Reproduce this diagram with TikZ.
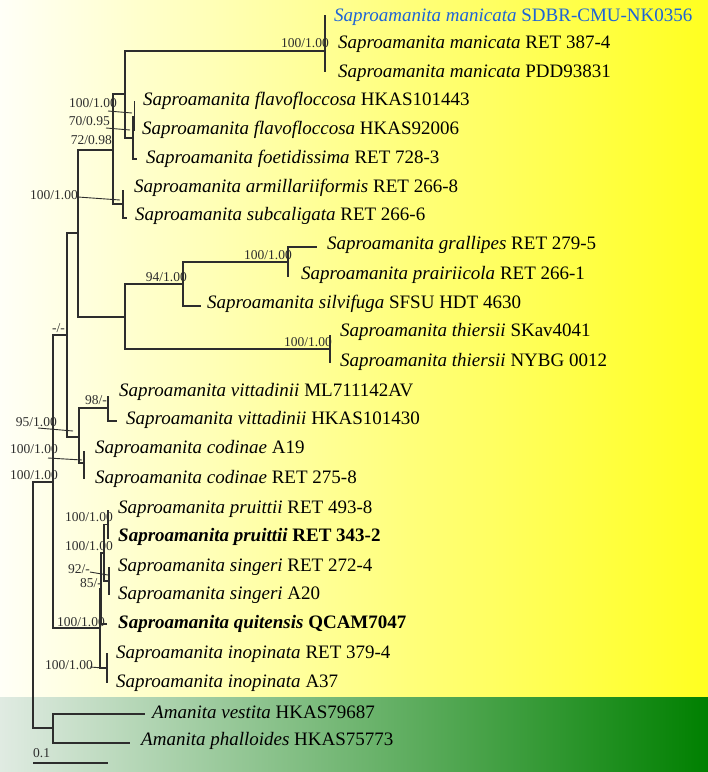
\documentclass[tikz,border=0pt]{standalone}
\usepackage{fontspec}
\setmainfont{Liberation Serif}
\definecolor{yL}{RGB}{255,255,247}
\definecolor{yR}{RGB}{255,255,32}
\definecolor{gL}{RGB}{224,235,226}
\definecolor{gR}{RGB}{0,128,0}
\definecolor{brc}{RGB}{45,45,45}
\definecolor{blueleaf}{RGB}{30,100,215}
\begin{document}
\begin{tikzpicture}[x=1pt,y=-1pt,
  br/.style={line width=1.2pt, draw=brc},
  lead/.style={line width=0.9pt, draw=brc},
  leaf/.style={anchor=base west, inner sep=0pt, font=\fontsize{19}{22}\selectfont},
  bs/.style={anchor=east, inner sep=0pt, font=\fontsize{13.5}{15}\selectfont, text=brc}]
\useasboundingbox (0,0) rectangle (708,772);
\fill[left color=yL, right color=yR] (0,0) rectangle (708,697);
\fill[left color=gL, right color=gR] (0,697) rectangle (708,772);

% internal nodes
\coordinate (Nr) at (33,605);
\coordinate (Na) at (53,482);
\coordinate (Am) at (53,728);
\coordinate (Nb) at (67,335);
\coordinate (Nd) at (100,628);
\coordinate (N0) at (78,233);
\coordinate (Nc) at (79,437);
\coordinate (N1) at (113,150);
\coordinate (N2) at (125,317);
\coordinate (M) at (125,94);
\coordinate (R) at (123,204);
\coordinate (O1) at (325,51);
\coordinate (I1) at (325,29.5);
\coordinate (A) at (133,138);
\coordinate (F) at (134.5,116.5);
\coordinate (N3) at (183,284);
\coordinate (G) at (288,262);
\coordinate (T) at (330,349);
\coordinate (V) at (108,408);
\coordinate (C) at (84,463);
\coordinate (Q) at (101,588.5);
\coordinate (PS) at (104,553);
\coordinate (P) at (108,524.5);
\coordinate (S) at (109,581);
\coordinate (I) at (107,668);

% leaf tips
\coordinate (t1) at (325,15);
\coordinate (t2) at (325,44);
\coordinate (t3) at (325,72);
\coordinate (t4) at (134.5,101);
\coordinate (t5) at (134.5,131);
\coordinate (t6) at (137,159);
\coordinate (t7) at (123,190);
\coordinate (t8) at (127,218);
\coordinate (t9) at (317,247);
\coordinate (t10) at (288,277);
\coordinate (t11) at (201,306);
\coordinate (t12) at (330,335);
\coordinate (t13) at (330,363);
\coordinate (t14) at (108,396);
\coordinate (t15) at (117,421);
\coordinate (t16) at (84,451);
\coordinate (t17) at (84,479);
\coordinate (t18) at (108,510);
\coordinate (t19) at (108,539);
\coordinate (t20) at (109,567);
\coordinate (t21) at (109,595);
\coordinate (t22) at (107,624);
\coordinate (t23) at (107,653);
\coordinate (t24) at (107,683);
\coordinate (t25) at (145,714);
\coordinate (t26) at (130,743);

% branches
\draw[br] (Nr) |- (Na) (Nr) |- (Am)
 (Na) |- (Nb) (Na) |- (Nd)
 (Nb) |- (N0) (Nb) |- (Nc)
 (N0) |- (N1) (N0) |- (N2)
 (N1) |- (M) (N1) |- (R)
 (M) |- (O1) (M) |- (A)
 (O1) |- (I1) (O1) |- (t3)
 (I1) |- (t1) (I1) |- (t2)
 (A) |- (F) (A) |- (t6)
 (F) |- (t4) (F) |- (t5)
 (R) |- (t7) (R) |- (t8)
 (N2) |- (N3) (N2) |- (T)
 (N3) |- (G) (N3) |- (t11)
 (G) |- (t9) (G) |- (t10)
 (T) |- (t12) (T) |- (t13)
 (Nc) |- (V) (Nc) |- (C)
 (V) |- (t14) (V) |- (t15)
 (C) |- (t16) (C) |- (t17)
 (Nd) |- (Q) (Nd) |- (I)
 (Q) |- (PS) (Q) |- (t22)
 (PS) |- (P) (PS) |- (S)
 (P) |- (t18) (P) |- (t19)
 (S) |- (t20) (S) |- (t21)
 (I) |- (t23) (I) |- (t24)
 (Am) |- (t25) (Am) |- (t26);

% leaf labels
\node[leaf, text=blueleaf] (L1) at (334,21) {\textit{Saproamanita manicata} SDBR-CMU-NK0356};
\node[leaf] (L2) at (338,48) {\textit{Saproamanita manicata} RET 387-4};
\node[leaf] (L3) at (338,77) {\textit{Saproamanita manicata} PDD93831};
\node[leaf] (L4) at (143,105) {\textit{Saproamanita flavofloccosa} HKAS101443};
\node[leaf] (L5) at (142,134) {\textit{Saproamanita flavofloccosa} HKAS92006};
\node[leaf] (L6) at (146,163) {\textit{Saproamanita foetidissima} RET 728-3};
\node[leaf] (L7) at (134,192) {\textit{Saproamanita armillariiformis} RET 266-8};
\node[leaf] (L8) at (135,220) {\textit{Saproamanita subcaligata} RET 266-6};
\node[leaf] (L9) at (327,249) {\textit{Saproamanita grallipes} RET 279-5};
\node[leaf] (L10) at (301,279) {\textit{Saproamanita prairiicola} RET 266-1};
\node[leaf] (L11) at (207,308) {\textit{Saproamanita silvifuga} SFSU HDT 4630};
\node[leaf] (L12) at (340,336) {\textit{Saproamanita thiersii} SKav4041};
\node[leaf] (L13) at (340,366) {\textit{Saproamanita thiersii} NYBG 0012};
\node[leaf] (L14) at (119,396) {\textit{Saproamanita vittadinii} ML711142AV};
\node[leaf] (L15) at (126,424) {\textit{Saproamanita vittadinii} HKAS101430};
\node[leaf] (L16) at (95,453) {\textit{Saproamanita codinae} A19};
\node[leaf] (L17) at (95,483) {\textit{Saproamanita codinae} RET 275-8};
\node[leaf] (L18) at (118,513) {\textit{Saproamanita pruittii} RET 493-8};
\node[leaf] (L19) at (118,541) {\textbf{\textit{Saproamanita pruittii} RET 343-2}};
\node[leaf] (L20) at (118,571) {\textit{Saproamanita singeri} RET 272-4};
\node[leaf] (L21) at (118,599) {\textit{Saproamanita singeri} A20};
\node[leaf] (L22) at (118,628) {\textbf{\textit{Saproamanita quitensis} QCAM7047}};
\node[leaf] (L23) at (116,658) {\textit{Saproamanita inopinata} RET 379-4};
\node[leaf] (L24) at (116,687) {\textit{Saproamanita inopinata} A37};
\node[leaf] (L25) at (152,718) {\textit{Amanita vestita} HKAS79687};
\node[leaf] (L26) at (141,745) {\textit{Amanita phalloides} HKAS75773};

% support values
\node[bs] (s1) at (329,43) {100/1.00};
\node[bs] (s2) at (117,103) {100/1.00};
\node[bs] (s3) at (110,121) {70/0.95};
\node[bs] (s4) at (112,140) {72/0.98};
\node[bs] (s5) at (78,195) {100/1.00};
\node[bs] (s6) at (292,255) {100/1.00};
\node[bs] (s7) at (187,277) {94/1.00};
\node[bs] (s8) at (332,342) {100/1.00};
\node[bs] (s9) at (65,328) {-/-};
\node[bs] (s10) at (107,400) {98/-};
\node[bs] (s11) at (57,422) {95/1.00};
\node[bs] (s12) at (58,449) {100/1.00};
\node[bs] (s13) at (58,475) {100/1.00};
\node[bs] (s14) at (113,517) {100/1.00};
\node[bs] (s15) at (113,546) {100/1.00};
\node[bs] (s16) at (90,569) {92/-};
\node[bs] (s17) at (102,583) {85/-};
\node[bs] (s18) at (105,622) {100/1.00};
\node[bs] (s19) at (93,665) {100/1.00};

% leader lines
\coordinate (k2a) at (108,111); \coordinate (k2b) at (132,113);
\coordinate (k3a) at (106,128); \coordinate (k3b) at (130,130);
\coordinate (k5a) at (78,197);  \coordinate (k5b) at (120,200);
\coordinate (k11a) at (38,428); \coordinate (k11b) at (73,431);
\coordinate (k12a) at (48,458); \coordinate (k12b) at (82,460);
\coordinate (k16a) at (90,572); \coordinate (k16b) at (108,575);
\coordinate (k19a) at (90,667); \coordinate (k19b) at (103,668);
\draw[lead] (k2a) -- (k2b) (k3a) -- (k3b) (k5a) -- (k5b) (k11a) -- (k11b)
  (k12a) -- (k12b) (k16a) -- (k16b) (k19a) -- (k19b);

% scale bar
\coordinate (sb1) at (33,763);
\coordinate (sb2) at (108,763);
\draw[br] (sb1) -- (sb2);
\node[bs, anchor=base west] (sbl) at (33,757) {0.1};
\end{tikzpicture}
\end{document}
